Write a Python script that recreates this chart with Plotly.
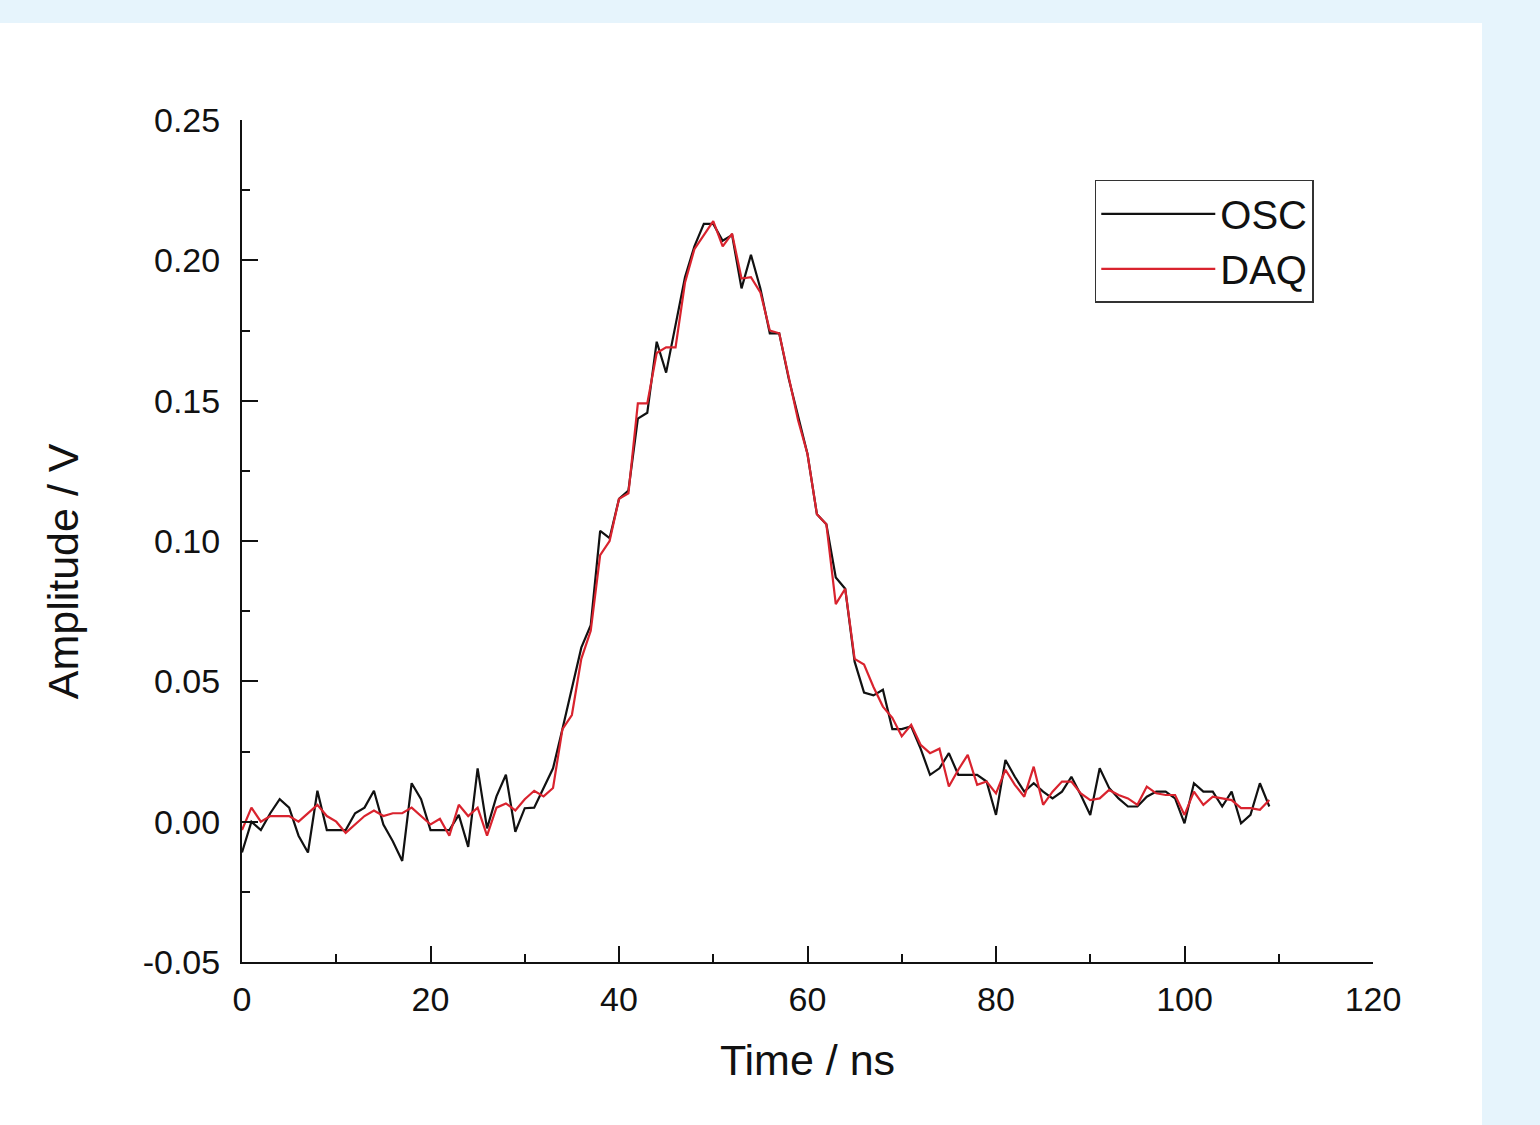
import plotly.graph_objects as go

time_ns = list(range(110))

osc = [
    -0.011, 0.000, -0.003, 0.003, 0.008, 0.005, -0.005, -0.011, 0.011, -0.003,
    -0.003, -0.003, 0.003, 0.005, 0.011, -0.001, -0.007, -0.014, 0.0137, 0.008,
    -0.003, -0.003, -0.003, 0.0024, -0.009, 0.019, -0.0024, 0.009, 0.0167, -0.0036,
    0.0048, 0.005, 0.012, 0.019, 0.033, 0.047, 0.062, 0.070, 0.1036, 0.101,
    0.115, 0.118, 0.1436, 0.1457, 0.171, 0.160, 0.177, 0.194, 0.205, 0.213,
    0.213, 0.207, 0.209, 0.190, 0.202, 0.190, 0.174, 0.174, 0.158, 0.145,
    0.131, 0.1095, 0.106, 0.087, 0.083, 0.057, 0.046, 0.045, 0.047, 0.033,
    0.033, 0.034, 0.026, 0.0167, 0.019, 0.0244, 0.0167, 0.0167, 0.0167, 0.0143,
    0.0024, 0.022, 0.016, 0.0107, 0.0137, 0.0107, 0.0083, 0.0107, 0.016, 0.0095,
    0.0024, 0.019, 0.012, 0.0083, 0.0054, 0.0054, 0.0089, 0.0107, 0.0107, 0.0083,
    -0.0006, 0.0137, 0.0107, 0.0107, 0.0054, 0.0107, -0.0006, 0.0024, 0.0137, 0.0054,
]

daq = [
    -0.003, 0.005, 0.000, 0.002, 0.002, 0.002, 0.000, 0.003, 0.006, 0.002,
    0.000, -0.004, -0.001, 0.002, 0.004, 0.002, 0.003, 0.003, 0.005, 0.002,
    -0.001, 0.001, -0.005, 0.006, 0.002, 0.005, -0.005, 0.005, 0.0065, 0.004,
    0.008, 0.011, 0.009, 0.012, 0.033, 0.038, 0.058, 0.068, 0.095, 0.100,
    0.115, 0.117, 0.149, 0.149, 0.167, 0.169, 0.169, 0.192, 0.204, 0.209,
    0.214, 0.205, 0.2095, 0.1935, 0.194, 0.1886, 0.175, 0.174, 0.158, 0.143,
    0.131, 0.1095, 0.106, 0.0775, 0.083, 0.058, 0.056, 0.048, 0.041, 0.037,
    0.0304, 0.0345, 0.0274, 0.0244, 0.026, 0.0125, 0.0185, 0.0238, 0.0131, 0.0143,
    0.0101, 0.0185, 0.0131, 0.0089, 0.0196, 0.006, 0.0107, 0.0143, 0.0143, 0.0101,
    0.0077, 0.0083, 0.0113, 0.0095, 0.0083, 0.006, 0.0125, 0.0101, 0.0095, 0.0095,
    0.0024, 0.0107, 0.006, 0.0089, 0.0083, 0.0077, 0.0048, 0.0048, 0.0042, 0.0077,
]

x_ticks = [0, 20, 40, 60, 80, 100, 120]
y_ticks = [-0.05, 0.00, 0.05, 0.10, 0.15, 0.20, 0.25]

FONT = "Liberation Sans, Arial, Helvetica, sans-serif"
INK = "#111111"

fig = go.Figure()
fig.add_trace(go.Scatter(x=time_ns, y=osc, mode="lines", name="OSC",
                         line=dict(color=INK, width=2.2)))
fig.add_trace(go.Scatter(x=time_ns, y=daq, mode="lines", name="DAQ",
                         line=dict(color="#d9232e", width=2.2)))

# white panel on light-blue page
fig.add_shape(type="rect", xref="paper", yref="paper",
              x0=-0.214, x1=1.0964, y0=-0.1936, y1=1.1152,
              fillcolor="white", line=dict(width=0), layer="below")

axis_common = dict(
    showline=True, linecolor=INK, linewidth=2,
    ticks="inside", ticklen=16, tickwidth=2, tickcolor=INK,
    showgrid=False, zeroline=False, mirror=False,
    tickfont=dict(family=FONT, size=34, color=INK),
)

fig.update_xaxes(
    range=[0, 120], tickvals=x_ticks, ticktext=[str(v) for v in x_ticks],
    minor=dict(ticks="inside", ticklen=8, tickwidth=2, tickcolor=INK, dtick=10, tick0=0),
    title=dict(text="Time / ns", font=dict(family=FONT, size=43, color=INK), standoff=28),
    ticklabelstandoff=6,
    **axis_common,
)
fig.update_yaxes(
    range=[-0.05, 0.25], tickvals=y_ticks, ticktext=[f"{v:.2f}" for v in y_ticks],
    minor=dict(ticks="inside", ticklen=8, tickwidth=2, tickcolor=INK, dtick=0.025, tick0=0),
    ticklabelstandoff=13,
    **axis_common,
)

# y-axis title placed as in the reference (slightly below the axis centre)
fig.add_annotation(
    text="Amplitude / V", xref="paper", yref="paper",
    x=-0.158, y=0.4644, xanchor="center", yanchor="middle",
    textangle=-90, showarrow=False,
    font=dict(family=FONT, size=43, color=INK),
)

fig.update_layout(
    width=1540, height=1125,
    margin=dict(l=242, r=167, t=120, b=163),
    paper_bgcolor="#e6f4fc",
    plot_bgcolor="rgba(0,0,0,0)",
    showlegend=True,
    legend=dict(
        x=0.754, y=0.929, xanchor="left", yanchor="top",
        bgcolor="white", bordercolor="#333333", borderwidth=1.5,
        font=dict(family=FONT, size=40, color=INK),
        itemwidth=114, tracegroupgap=0,
    ),
)

fig.write_html(
    "out.html",
    config={"displayModeBar": False},
    post_script="document.body.style.margin='0';document.body.style.background='#e6f4fc';",
)
